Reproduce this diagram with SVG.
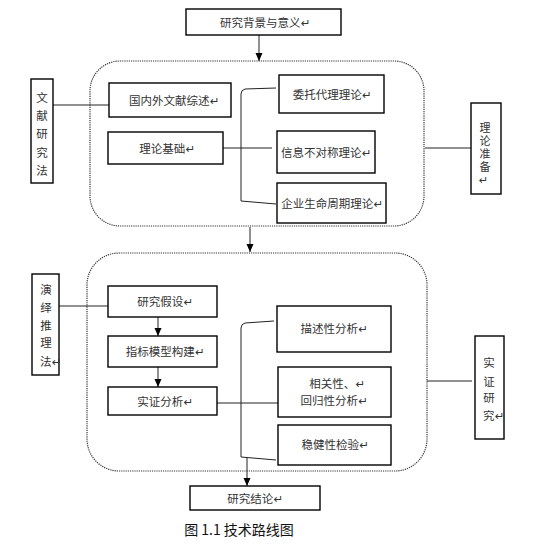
<svg xmlns="http://www.w3.org/2000/svg" width="540" height="554" viewBox="0 0 540 554">
<style>
.box{fill:#fff;stroke:#000;stroke-width:1.4}
.grp{fill:none;stroke:#333;stroke-width:1.2;stroke-dasharray:1.2 1}
.ln{fill:none;stroke:#222;stroke-width:1}
.t{font-family:"Noto Sans CJK SC","DejaVu Sans",sans-serif;font-size:11.5px;fill:#333}
.v{font-size:11px;writing-mode:vertical-rl;text-orientation:upright;letter-spacing:2px}
.c{text-anchor:middle}
.cap{font-family:"Noto Sans CJK SC","DejaVu Sans",sans-serif;font-size:14px;fill:#111;text-anchor:middle}
</style>
<defs>
<marker id="ar" viewBox="0 0 8 8" refX="8" refY="4" markerWidth="8" markerHeight="8" markerUnits="userSpaceOnUse" orient="auto">
<path d="M0,0.5 L8,4 L0,7.5 Z" fill="#000"/>
</marker>
</defs>
<rect width="540" height="554" fill="#fff"/>
<g id="groups">
<rect class="grp" x="90" y="61" width="334" height="165" rx="30" ry="30"/>
<rect class="grp" x="87" y="253" width="340" height="218" rx="32" ry="32"/>
</g>
<g id="connectors">
<line class="ln" x1="259" y1="35" x2="259" y2="61" marker-end="url(#ar)"/>
<line class="ln" x1="53" y1="105" x2="109" y2="105"/>
<line class="ln" x1="223" y1="148" x2="272" y2="148"/>
<line class="ln" x1="425" y1="148" x2="471" y2="148"/>
<path class="ln" d="M276,88 L245,89 Q241,90 241,94 L241,201 L276,204"/>
<line class="ln" x1="250" y1="227" x2="250" y2="252" marker-end="url(#ar)"/>
<line class="ln" x1="59" y1="306" x2="108" y2="306"/>
<line class="ln" x1="158" y1="317" x2="158" y2="336" marker-end="url(#ar)"/>
<line class="ln" x1="158" y1="367" x2="158" y2="387" marker-end="url(#ar)"/>
<line class="ln" x1="217" y1="403" x2="278" y2="403"/>
<line class="ln" x1="427" y1="381" x2="472" y2="381"/>
<path class="ln" d="M274,321 L245,323 Q241,324 241,328 L241,457 L276,460"/>
<line class="ln" x1="247" y1="458" x2="247" y2="486" marker-end="url(#ar)"/>
</g>
<g id="n-bg"><rect class="box" x="186" y="9" width="155" height="26"/><text class="t c" x="265" y="27">研究背景与意义↵</text></g>
<g id="n-wxyjf"><rect class="box" x="31" y="79" width="22" height="104"/>
<text class="t c" x="42" y="102">文</text><text class="t c" x="42" y="120">献</text><text class="t c" x="42" y="138">研</text><text class="t c" x="42" y="157">究</text><text class="t c" x="42" y="175">法</text></g>
<g id="n-gnw"><rect class="box" x="109" y="83" width="122" height="34"/><text class="t" x="129" y="105">国内外文献综述↵</text></g>
<g id="n-lljc"><rect class="box" x="108" y="132" width="115" height="32"/><text class="t c" x="167" y="153">理论基础↵</text></g>
<g id="n-wtdl"><rect class="box" x="279" y="75" width="105" height="38"/><text class="t c" x="332" y="99">委托代理理论↵</text></g>
<g id="n-xxbdc"><rect class="box" x="277" y="131" width="98" height="42"/><text class="t c" x="326" y="157">信息不对称理论↵</text></g>
<g id="n-qysm"><rect class="box" x="277" y="183" width="109" height="40"/><text class="t c" x="332" y="208">企业生命周期理论↵</text></g>
<g id="n-llzb"><rect class="box" x="471" y="103" width="30" height="91"/>
<text class="t v" x="485" y="122">理论准备↵</text></g>
<g id="n-yytlf"><rect class="box" x="32" y="274" width="27" height="101"/>
<text class="t c" x="46" y="294">演</text><text class="t c" x="46" y="312">绎</text><text class="t c" x="46" y="330">推</text><text class="t c" x="46" y="347">理</text><text class="t" x="40" y="366">法↵</text></g>
<g id="n-yjjs"><rect class="box" x="108" y="286" width="109" height="31"/><text class="t c" x="165" y="306">研究假设↵</text></g>
<g id="n-zbmx"><rect class="box" x="108" y="336" width="109" height="31"/><text class="t c" x="165" y="356">指标模型构建↵</text></g>
<g id="n-szfx"><rect class="box" x="108" y="387" width="109" height="28"/><text class="t c" x="165" y="406">实证分析↵</text></g>
<g id="n-msx"><rect class="box" x="277" y="306" width="114" height="46"/><text class="t c" x="334" y="333">描述性分析↵</text></g>
<g id="n-xgx"><rect class="box" x="278" y="367" width="113" height="50"/><text class="t c" x="337" y="388">相关性、↵</text><text class="t c" x="334" y="405">回归性分析↵</text></g>
<g id="n-wjx"><rect class="box" x="278" y="425" width="113" height="40"/><text class="t c" x="335" y="449">稳健性检验↵</text></g>
<g id="n-szyj"><rect class="box" x="475" y="336" width="29" height="103"/>
<text class="t c" x="489" y="367">实</text><text class="t c" x="489" y="386">证</text><text class="t c" x="489" y="402">研</text><text class="t" x="483" y="420">究↵</text></g>
<g id="n-yjjl"><rect class="box" x="190" y="486" width="130" height="24"/><text class="t c" x="255" y="503">研究结论↵</text></g>
<text class="cap" x="239" y="535">图 1.1 技术路线图</text>
</svg>
